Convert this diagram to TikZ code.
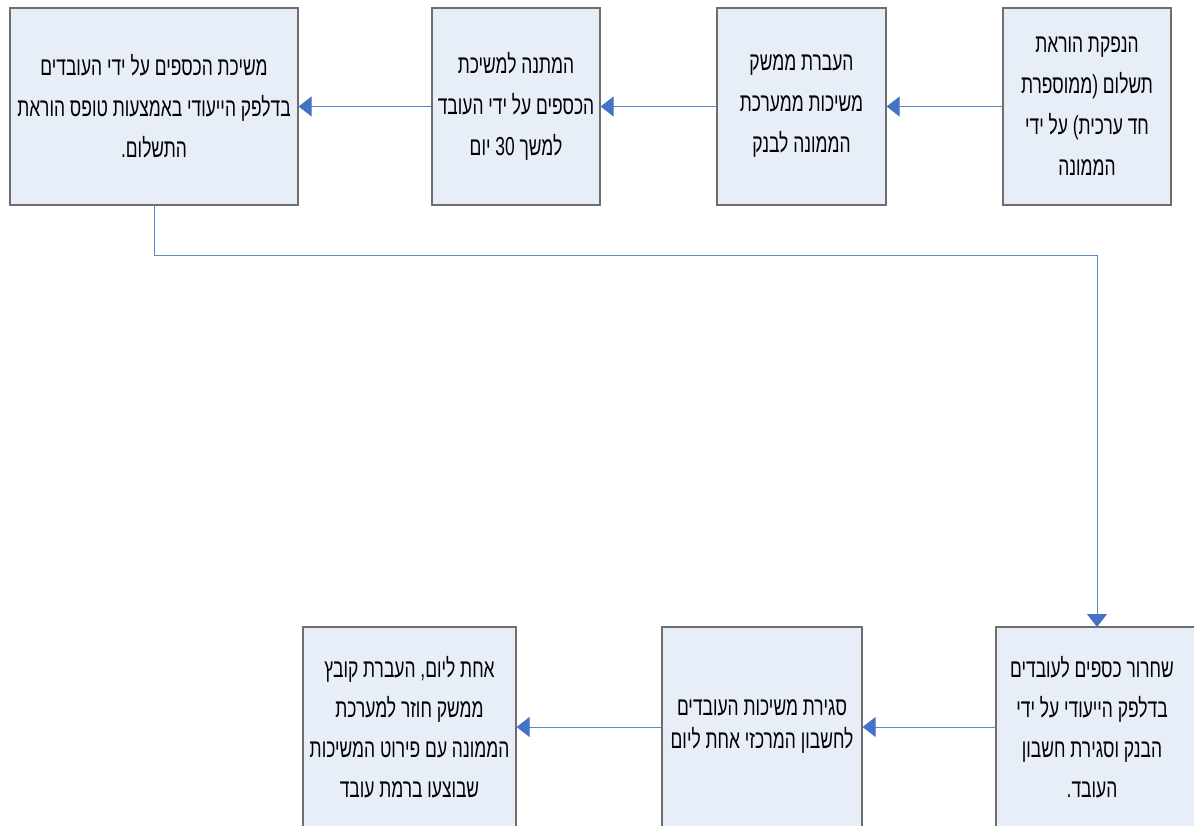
\documentclass[tikz,border=0pt]{standalone}
\usepackage{fontspec}
\TeXXeTstate=1
\newfontfamily\heb[Script=Hebrew,FakeStretch=0.67]{Liberation Sans}
\usetikzlibrary{arrows.meta}
\definecolor{boxfill}{HTML}{E8EEF8}
\definecolor{boxline}{HTML}{6E6E6E}
\definecolor{linecol}{HTML}{5B86C8}
\definecolor{headcol}{HTML}{4472C4}
\newcommand{\rl}[1]{\beginR #1\endR}
\begin{document}
\begin{tikzpicture}[x=1pt,y=-1pt,
  boxshape/.style={draw=boxline, line width=1.2pt, fill=boxfill, inner sep=0pt},
  boxtext/.style={font=\heb\fontsize{26}{41}\selectfont, align=center, inner sep=0pt},
  box/.style={boxshape, boxtext},
  conn/.style={draw=linecol, line width=0.9pt,
    -{Triangle[length=13pt,width=20pt,color=headcol]}}]
\useasboundingbox (0,0) rectangle (1194,825);
\clip (0,0) rectangle (1194,825);
\node[box, minimum width=168pt, minimum height=197pt] (b1) at (1087,106.5)
  {\rl{הנפקת הוראת}\\\rl{תשלום (ממוספרת}\\\rl{חד ערכית) על ידי}\\\rl{הממונה}};
\node[box, minimum width=169pt, minimum height=197pt] (b2) at (801.5,106.5)
  {\rl{העברת ממשק}\\\rl{משיכות ממערכת}\\\rl{הממונה לבנק}};
\node[box, minimum width=168pt, minimum height=197pt] (b3) at (516,106.5)
  {\rl{המתנה למשיכת}\\\rl{הכספים על ידי העובד}\\\rl{למשך \beginL 30\endL{} יום}};
\node[box, minimum width=288pt, minimum height=197pt] (b4) at (154,106.5)
  {\rl{משיכת הכספים על ידי העובדים}\\\rl{בדלפק הייעודי באמצעות טופס הוראת}\\\rl{התשלום.}};
\node[boxshape, minimum width=230pt, minimum height=200pt] (b5) at (1111,727) {};
\node[boxtext, font=\heb\fontsize{26}{40}\selectfont] (b5t) at (1092,727)
  {\rl{שחרור כספים לעובדים}\\\rl{בדלפק הייעודי על ידי}\\\rl{הבנק וסגירת חשבון}\\\rl{העובד.}};
\coordinate (b5top) at (1097,627);
\node[box, minimum width=200pt, minimum height=200pt] (b6) at (762,727)
  {\rl{סגירת משיכות העובדים}\\[-8pt]\rl{לחשבון המרכזי אחת ליום}};
\node[box, minimum width=213pt, minimum height=200pt,
  font=\heb\fontsize{26}{40}\selectfont] (b7) at (409.5,727)
  {\rl{אחת ליום, העברת קובץ}\\\rl{ממשק חוזר למערכת}\\\rl{הממונה עם פירוט המשיכות}\\\rl{שבוצעו ברמת עובד}};
\draw[conn] (b1.west) -- (b2.east);
\draw[conn] (b2.west) -- (b3.east);
\draw[conn] (b3.west) -- (b4.east);
\draw[conn] (b4.south) -- ++(0,50) -| (b5top);
\draw[conn] (b5.west) -- (b6.east);
\draw[conn] (b6.west) -- (b7.east);
\end{tikzpicture}
\end{document}
